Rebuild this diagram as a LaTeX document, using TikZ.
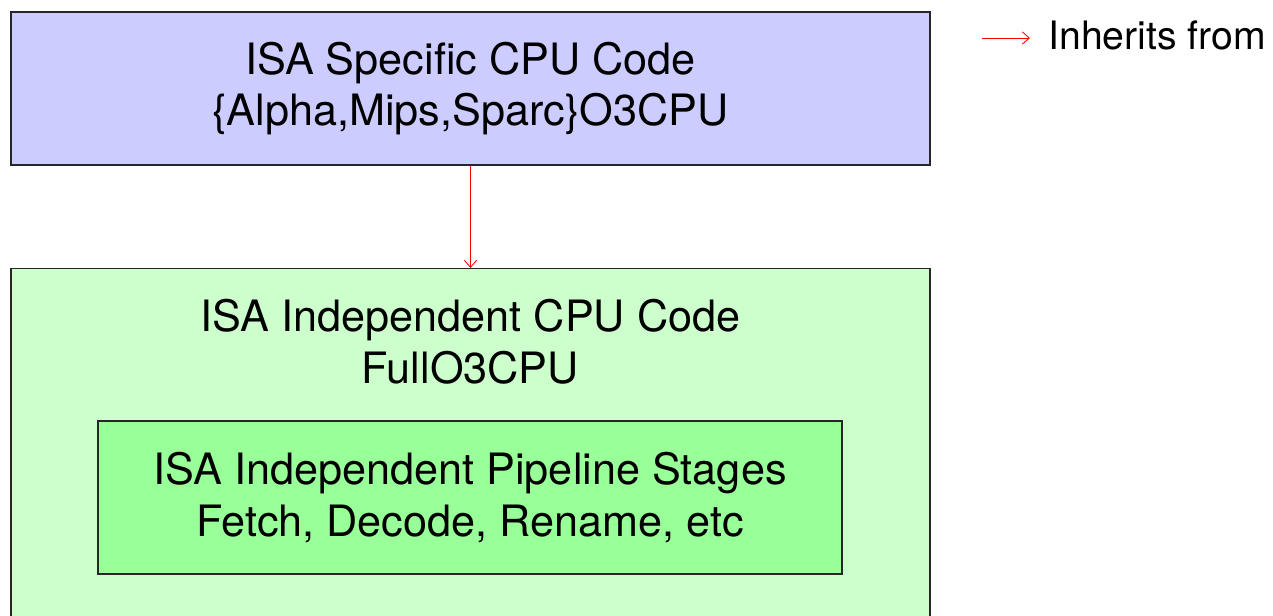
\documentclass[tikz,border=0pt]{standalone}
\usepackage{fontspec}
\setmainfont{TeX Gyre Heros}
\usetikzlibrary{positioning, arrows.meta}
\definecolor{isablue}{RGB}{204,204,255}
\definecolor{indepgreen}{RGB}{204,255,204}
\definecolor{stagegreen}{RGB}{153,255,153}
\definecolor{edge}{gray}{0.15}

\begin{document}
\begin{tikzpicture}[x=0.02cm, y=-0.02cm,
  box/.style={draw=edge, line width=0.7pt, inner sep=0pt},
  boxtext/.style={align=center, font=\fontsize{24.6}{29.5}\selectfont},
  inherit/.style={draw=red, line width=0.5pt, -{Straight Barb[length=4pt, width=7pt]}}]
\useasboundingbox (0,0) rectangle (1273,615);

\node[box, boxtext, fill=isablue, minimum width=18.38cm, minimum height=3.06cm]
  (specific) at (470.5,88.5) {ISA Specific CPU Code\\\{Alpha,Mips,Sparc\}O3CPU};

% outer box runs past the lower edge
\node[box, fill=indepgreen, minimum width=18.38cm, minimum height=8cm, anchor=north]
  (indep) at (470.5,268) {};
\node[boxtext] (indeptitle) at (470.5,342) {ISA Independent CPU Code\\FullO3CPU};
\node[box, boxtext, fill=stagegreen, minimum width=14.88cm, minimum height=3.06cm]
  (stages) at (470,497.5) {ISA Independent Pipeline Stages\\Fetch, Decode, Rename, etc};

\draw[inherit] (specific.south) -- (indep.north);

% legend
\coordinate (legtail) at (982,38);
\coordinate (leghead) at (1030,38);
\draw[inherit] (legtail) -- (leghead);
\node[anchor=base west, inner sep=0pt, font=\fontsize{22.3}{27}\selectfont]
  (legend) at (1048,50) {Inherits from};
\end{tikzpicture}
\end{document}
